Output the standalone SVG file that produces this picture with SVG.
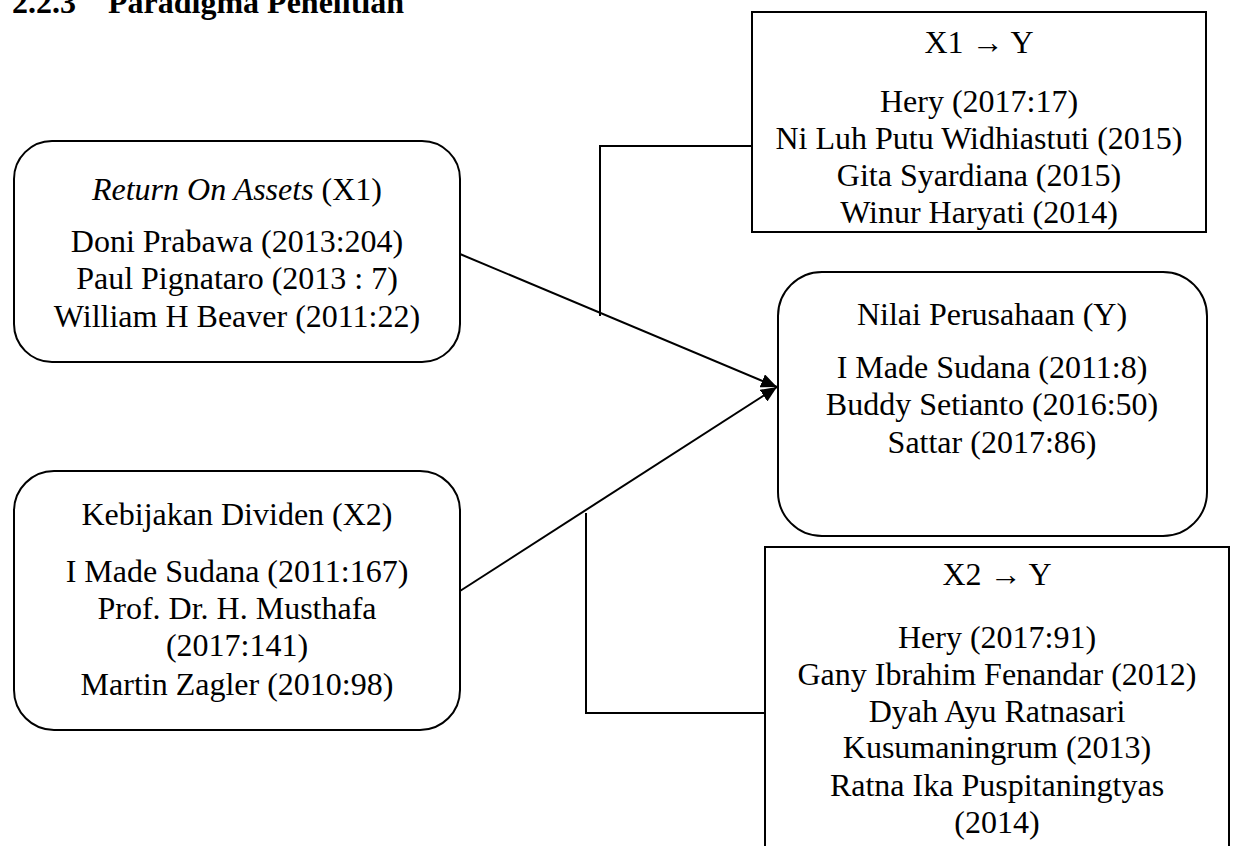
<svg xmlns="http://www.w3.org/2000/svg" width="1235" height="846" viewBox="0 0 1235 846">
<defs>
<style>
.t{font-family:"Liberation Serif","Times New Roman",serif;font-size:32px;fill:#000;text-anchor:middle}
.h{font-family:"Liberation Serif","Times New Roman",serif;font-size:32px;font-weight:bold;fill:#000}
.box{fill:#fff;stroke:#000;stroke-width:2}
.con{fill:none;stroke:#000;stroke-width:2}
</style>
<marker id="arr" markerUnits="userSpaceOnUse" markerWidth="17" markerHeight="14" refX="16" refY="7" orient="auto">
<path d="M0,0 L16,7 L0,14 z" fill="#000"/>
</marker>
</defs>
<rect width="1235" height="846" fill="#fff"/>
<g id="title">
<text class="h" x="12" y="13">2.2.3</text>
<text class="h" x="108" y="13">Paradigma Penelitian</text>
</g>
<g id="connectors">
<path class="con" d="M600,316 V146 H752 V119"/>
<path class="con" d="M586,513 V713 H765"/>
<line class="con" x1="460" y1="254" x2="777" y2="387" marker-end="url(#arr)"/>
<line class="con" x1="460" y1="591" x2="777" y2="387" marker-end="url(#arr)"/>
</g>
<g id="x1y">
<rect class="box" x="752" y="12" width="454" height="220"/>
<text class="t" x="979" y="53">X1 → Y</text>
<text class="t" x="979" y="112">Hery (2017:17)</text>
<text class="t" x="979" y="149">Ni Luh Putu Widhiastuti (2015)</text>
<text class="t" x="979" y="186">Gita Syardiana (2015)</text>
<text class="t" x="979" y="223">Winur Haryati (2014)</text>
</g>
<g id="roa">
<rect class="box" x="14" y="141" width="446" height="221" rx="38" ry="38"/>
<text class="t" x="237" y="200"><tspan font-style="italic">Return On Assets</tspan> (X1)</text>
<text class="t" x="237" y="252">Doni Prabawa (2013:204)</text>
<text class="t" x="237" y="289">Paul Pignataro (2013 : 7)</text>
<text class="t" x="237" y="327">William H Beaver (2011:22)</text>
</g>
<g id="y">
<rect class="box" x="778" y="272" width="429" height="264" rx="44" ry="44"/>
<text class="t" x="992" y="325">Nilai Perusahaan (Y)</text>
<text class="t" x="992" y="378">I Made Sudana (2011:8)</text>
<text class="t" x="992" y="415">Buddy Setianto (2016:50)</text>
<text class="t" x="992" y="453">Sattar (2017:86)</text>
</g>
<g id="x2">
<rect class="box" x="14" y="471" width="446" height="259" rx="40" ry="40"/>
<text class="t" x="237" y="525">Kebijakan Dividen (X2)</text>
<text class="t" x="237" y="582">I Made Sudana (2011:167)</text>
<text class="t" x="237" y="619">Prof. Dr. H. Musthafa</text>
<text class="t" x="237" y="656">(2017:141)</text>
<text class="t" x="237" y="695">Martin Zagler (2010:98)</text>
</g>
<g id="x2y">
<rect class="box" x="765" y="547" width="464" height="320"/>
<text class="t" x="997" y="585">X2 → Y</text>
<text class="t" x="997" y="648">Hery (2017:91)</text>
<text class="t" x="997" y="685">Gany Ibrahim Fenandar (2012)</text>
<text class="t" x="997" y="722">Dyah Ayu Ratnasari</text>
<text class="t" x="997" y="758">Kusumaningrum (2013)</text>
<text class="t" x="997" y="796">Ratna Ika Puspitaningtyas</text>
<text class="t" x="997" y="833">(2014)</text>
</g>
</svg>
